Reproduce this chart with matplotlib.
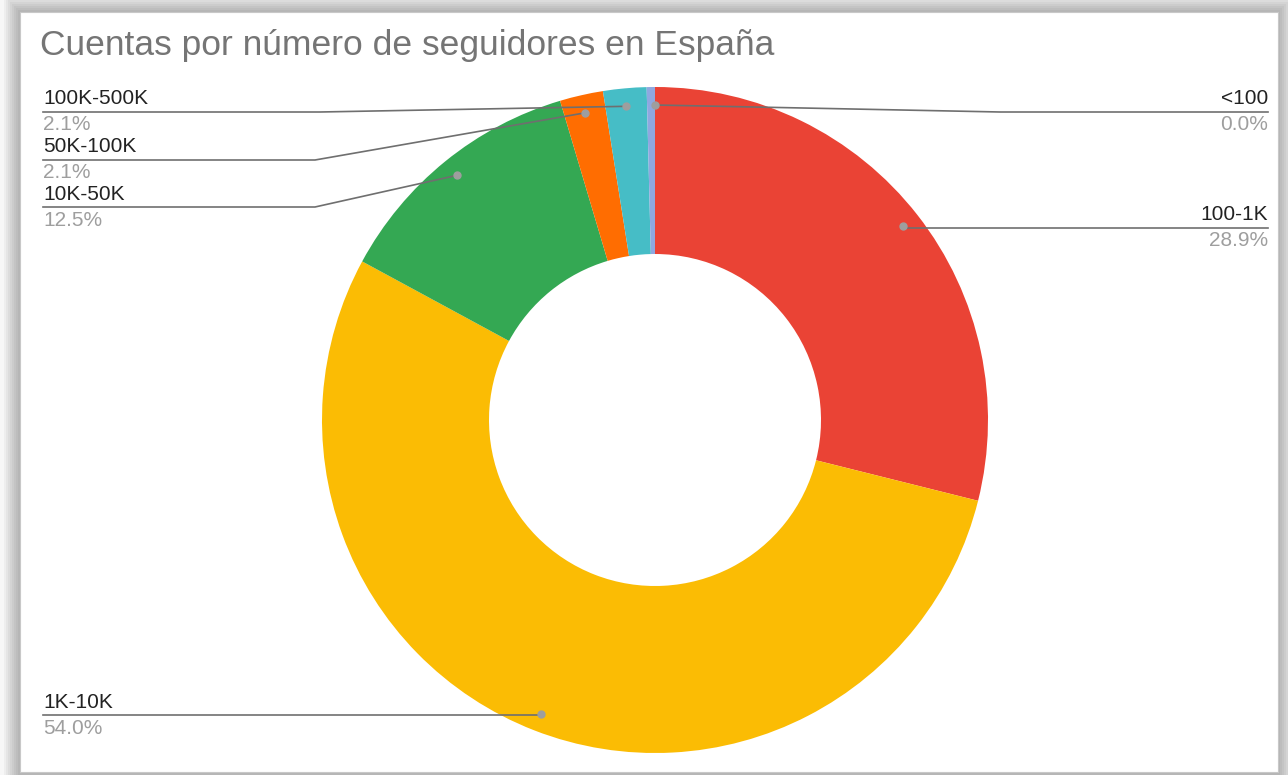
import numpy as np
import matplotlib
matplotlib.use('Agg')
import matplotlib.pyplot as plt
from matplotlib.patches import Rectangle

# datos (orden de las porciones, en sentido horario desde arriba)
categorias = ['<100', '100-1K', '1K-10K', '10K-50K', '50K-100K', '100K-500K', '>500K']
porcentajes = [0.0, 28.9, 54.0, 12.5, 2.1, 2.1, 0.4]
colores = ['#4285F4', '#EA4335', '#FBBC04', '#34A853', '#FF6D01', '#46BDC6', '#8FA8E0']
titulo = 'Cuentas por número de seguidores en España'

W, H = 1288, 775
plt.rcParams['font.family'] = ['Liberation Sans', 'DejaVu Sans']

fig = plt.figure(figsize=(W / 100, H / 100), dpi=100)
fig.patch.set_facecolor('#f7f7f7')
ax = fig.add_axes([0, 0, 1, 1])

# donut (eje y invertido -> counterclock=True se ve horario)
cx, cy, R, r_in = 655, 420, 333, 166
ax.pie(porcentajes, colors=colores, startangle=-90, counterclock=True,
       center=(cx, cy), radius=R, frame=True,
       wedgeprops=dict(width=R - r_in, linewidth=0, zorder=3))
ax.set_xlim(0, W)
ax.set_ylim(H, 0)
ax.set_aspect('equal')
ax.axis('off')

# marco con sombra
for d in range(16, 0, -2):
    ax.add_patch(Rectangle((20 - d, 12 - d), 1258 + 2 * d, 770 + 2 * d,
                           facecolor='black', alpha=0.035, edgecolor='none', zorder=0))
ax.add_patch(Rectangle((20, 12), 1258, 760, facecolor='white', edgecolor='#c8c8c8',
                       linewidth=0.8, zorder=1))

fig.text(40 / W, 1 - 46 / H, titulo, fontsize=25.5, color='#757575', va='center', ha='left')

# puntos de las etiquetas
acum = np.cumsum([0] + porcentajes)
r_dot = 315
def punto(i):
    ang = np.deg2rad((acum[i] + porcentajes[i] / 2) / 100 * 360)
    return cx + r_dot * np.sin(ang), cy - r_dot * np.cos(ang)

# (indice, x texto, y línea, lado, x del codo)
etiquetas = [
    (5, 43, 112, 'left', 320),
    (4, 43, 160, 'left', 315),
    (3, 43, 207, 'left', 315),
    (2, 43, 715, 'left', None),
    (0, 1268, 112, 'right', 1000),
    (1, 1268, 228, 'right', None),
]
for i, xt, yl, lado, codo in etiquetas:
    px, py = punto(i)
    if codo is None:
        xs, ys = [xt, px], [yl, yl]
    else:
        xs, ys = [xt, codo, px], [yl, yl, py]
    ax.plot(xs, ys, color='#6f6f6f', linewidth=1.2, zorder=5)
    ax.plot(px, py, 'o', color='#9e9e9e', markersize=5, zorder=6)
    ax.text(xt, yl - 13, categorias[i], fontsize=15, color='#222222',
            ha=lado, va='center', zorder=7)
    ax.text(xt, yl + 13, f'{porcentajes[i]:.1f}%', fontsize=15, color='#9e9e9e',
            ha=lado, va='center', zorder=7)

fig.savefig('out.png', dpi=100, facecolor=fig.get_facecolor())
